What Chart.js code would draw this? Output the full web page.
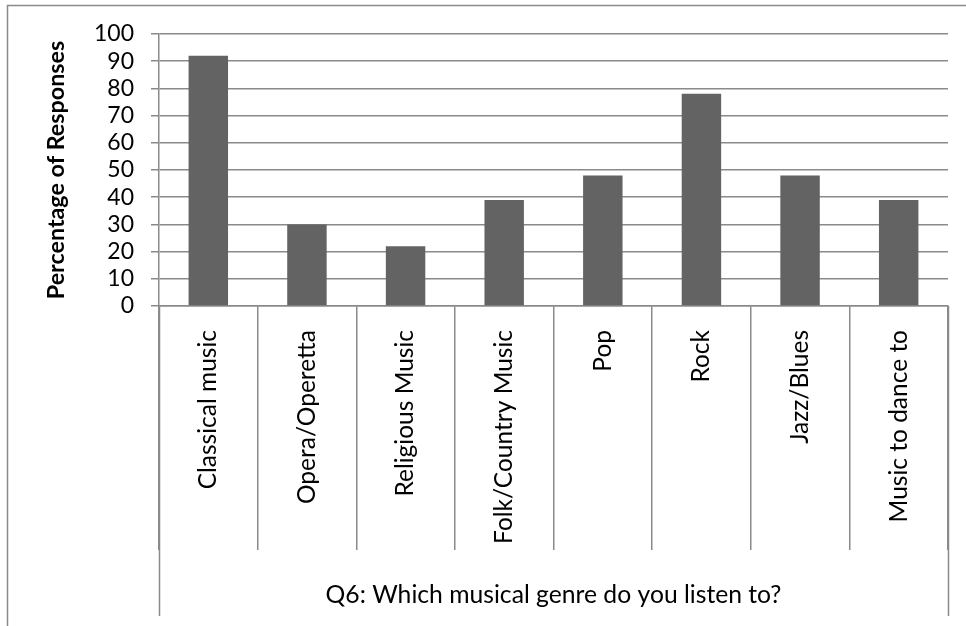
<!DOCTYPE html>
<html>
<head>
<meta charset="utf-8">
<script src="https://cdn.jsdelivr.net/npm/chart.js@4/dist/chart.umd.min.js"></script>
<style>
  html, body { margin: 0; padding: 0; background: #fff; overflow: hidden; }
  #wrap { width: 966px; height: 626px; position: relative; }
</style>
</head>
<body>
<div id="wrap"><canvas id="chart" width="966" height="626"></canvas></div>
<script>
// Survey answers: share of respondents naming each genre
const genres = [
  'Classical music', 'Opera/Operetta', 'Religious Music', 'Folk/Country Music',
  'Pop', 'Rock', 'Jazz/Blues', 'Music to dance to'
];
const responsePct = [92, 30, 22, 39, 48, 78, 48, 39];
const yMin = 0;
const yMax = 100;
const yStep = 10;
const questionLabel = 'Q6: Which musical genre do you listen to?';
const yAxisLabel = 'Percentage of Responses';

const LINE = '#8a8a8a';
const FONT = 'Lato';

// Chart-area frame plus the outer category dividers that run down through the question band
const framePlugin = {
  id: 'frame',
  beforeDraw(chart) {
    const ctx = chart.ctx;
    ctx.save();
    ctx.fillStyle = '#fff';
    ctx.fillRect(0, 0, chart.width, chart.height);
    ctx.strokeStyle = LINE;
    ctx.lineWidth = 1.5;
    ctx.beginPath();
    ctx.moveTo(7.5, chart.height);
    ctx.lineTo(7.5, 5.5);
    ctx.lineTo(chart.width, 5.5);
    ctx.stroke();
    ctx.restore();
  },
  afterDraw(chart) {
    const ctx = chart.ctx;
    const x = chart.scales.x;
    const bottom = x.bottom - 10;
    ctx.save();
    ctx.strokeStyle = LINE;
    ctx.lineWidth = 1.5;
    ctx.beginPath();
    [x.left, x.right].forEach(px => {
      const p = Math.round(px) + 0.5;
      ctx.moveTo(p, chart.chartArea.bottom);
      ctx.lineTo(p, bottom);
    });
    ctx.stroke();
    ctx.restore();
  }
};

new Chart(document.getElementById('chart'), {
  type: 'bar',
  data: {
    labels: genres,
    datasets: [{
      data: responsePct,
      backgroundColor: '#636363',
      borderWidth: 0,
      categoryPercentage: 1,
      barPercentage: 0.4
    }]
  },
  options: {
    responsive: false,
    animation: false,
    devicePixelRatio: 1,
    layout: { padding: { top: 34, right: 18, left: 0, bottom: 0 } },
    plugins: { legend: { display: false }, tooltip: { enabled: false } },
    scales: {
      x: {
        offset: true,
        grid: {
          offset: true,
          drawOnChartArea: false,
          drawTicks: true,
          tickLength: 244,
          color: LINE,
          lineWidth: 1.5
        },
        border: { display: true, color: LINE, width: 1.5 },
        ticks: {
          autoSkip: false,
          minRotation: 90,
          maxRotation: 90,
          padding: -220,
          color: '#000',
          font: { family: FONT, size: 24.5 }
        },
        title: {
          display: true,
          text: questionLabel,
          color: '#000',
          font: { family: FONT, size: 24.7 },
          padding: { top: 0, bottom: 16 }
        },
        afterFit(scale) { scale.height = 320; }
      },
      y: {
        min: yMin,
        max: yMax,
        ticks: {
          stepSize: yStep,
          autoSkip: false,
          padding: 17,
          color: '#000',
          font: { family: FONT, size: 23 }
        },
        grid: {
          color: LINE,
          lineWidth: 1.5,
          tickLength: 8
        },
        border: { display: true, color: LINE, width: 1.5 },
        title: {
          display: true,
          text: yAxisLabel,
          color: '#000',
          font: { family: FONT, size: 23.3, weight: 'bold' },
          padding: { top: 42, bottom: 0 }
        },
        afterFit(scale) { scale.width = 159; }
      }
    }
  },
  plugins: [framePlugin]
});
</script>
</body>
</html>
